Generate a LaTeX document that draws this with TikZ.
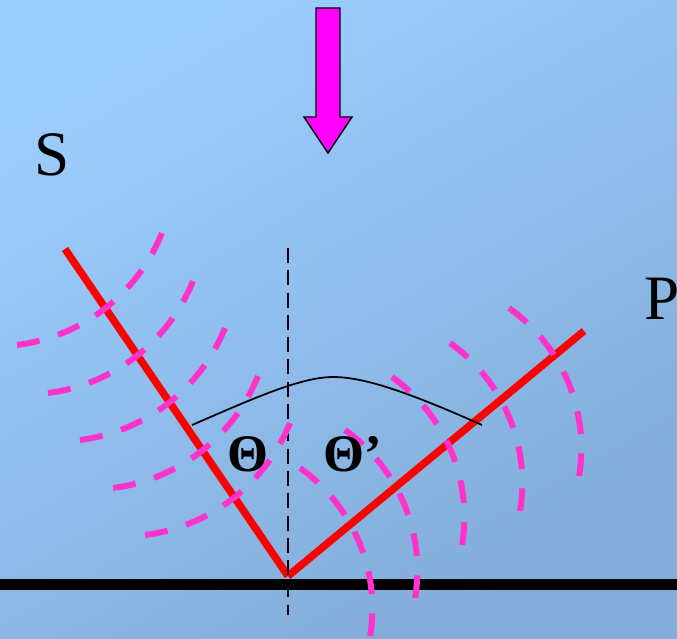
\documentclass[tikz,border=0pt]{standalone}
\usepackage{fontspec}
\setmainfont{Liberation Serif}
\usepackage{tikz}
\definecolor{bgtop}{HTML}{9BCDFE}
\definecolor{bgbot}{HTML}{83ACD8}
\definecolor{wavepink}{HTML}{FF33CC}
\definecolor{beammag}{HTML}{FF00FF}

\begin{document}
\begin{tikzpicture}[
  ray/.style={line width=0.15cm, red},
  ground/.style={line width=0.22cm, black},
  normal/.style={line width=0.045cm, black, dash pattern=on 0.30cm off 0.146cm},
  front/.style={line width=0.12cm, wavepink, dash pattern=on 0.46cm off 0.385cm},
  bigletter/.style={font=\fontsize{36}{40}\selectfont, inner sep=0pt},
  anglelabel/.style={font=\fontsize{30}{34}\selectfont\bfseries, inner sep=0pt},
]

\useasboundingbox (0,0) rectangle (13.54,12.76);
\shade[top color=bgtop, bottom color=bgbot, shading angle=30] (0,0) rectangle (13.54,12.76);
\clip (0,0) rectangle (13.54,12.76);

\coordinate (sEnd) at (1.30, 7.78);
\coordinate (foot) at (5.76, 1.24);
\coordinate (pEnd) at (11.68, 6.14);
\coordinate (nTop) at (5.76, 7.80);
\coordinate (nBot) at (5.76, 0.46);
\coordinate (gL) at (0, 1.07);
\coordinate (gR) at (13.54, 1.07);

\draw[ground] (gL) -- (gR);
\draw[ray] (sEnd) -- (foot);
\draw[ray] (foot) -- (pEnd);
\draw[normal] (nTop) -- (nBot);

\draw[line width=1pt] (3.84, 4.26) .. controls (5.00, 4.76) and (6.00, 5.22) .. (6.66, 5.22)
  .. controls (7.30, 5.22) and (8.20, 4.90) .. (9.64, 4.26);

\draw[front] (0.34, 5.86) arc[start angle=-82.8, end angle=-21.8, radius=3.61];
\draw[front] (0.96, 4.90) arc[start angle=-82.8, end angle=-21.8, radius=3.61];
\draw[front] (1.60, 3.96) arc[start angle=-82.8, end angle=-21.8, radius=3.61];
\draw[front] (2.26, 3.00) arc[start angle=-82.8, end angle=-21.8, radius=3.61];
\draw[front] (2.90, 2.06) arc[start angle=-82.8, end angle=-21.8, radius=3.61];

\draw[front] (6.00, 3.40) arc[start angle=54.6, end angle=-9.3, radius=3.44];
\draw[front] (6.90, 4.16) arc[start angle=54.6, end angle=-9.3, radius=3.44];
\draw[front] (7.84, 5.22) arc[start angle=54.6, end angle=-9.3, radius=3.44];
\draw[front] (9.00, 5.90) arc[start angle=54.6, end angle=-9.3, radius=3.44];
\draw[front] (10.18, 6.60) arc[start angle=54.6, end angle=-9.3, radius=3.44];

\draw[fill=beammag, line width=0.8pt, line join=miter]
  (6.32, 12.60) -- (6.80, 12.60) -- (6.80, 10.42) -- (7.04, 10.42)
  -- (6.56, 9.70) -- (6.08, 10.42) -- (6.32, 10.42) -- cycle;

\node[bigletter, anchor=base] (sLabel) at (1.05, 9.24) {S};
\node[bigletter, anchor=base west] (pLabel) at (12.88, 6.36) {P};
\node[anglelabel, anchor=base] (theta) at (4.96, 3.32) {Θ};
\node[anglelabel, anchor=base west] (thetaP) at (6.47, 3.32) {Θ’};

\end{tikzpicture}
\end{document}
